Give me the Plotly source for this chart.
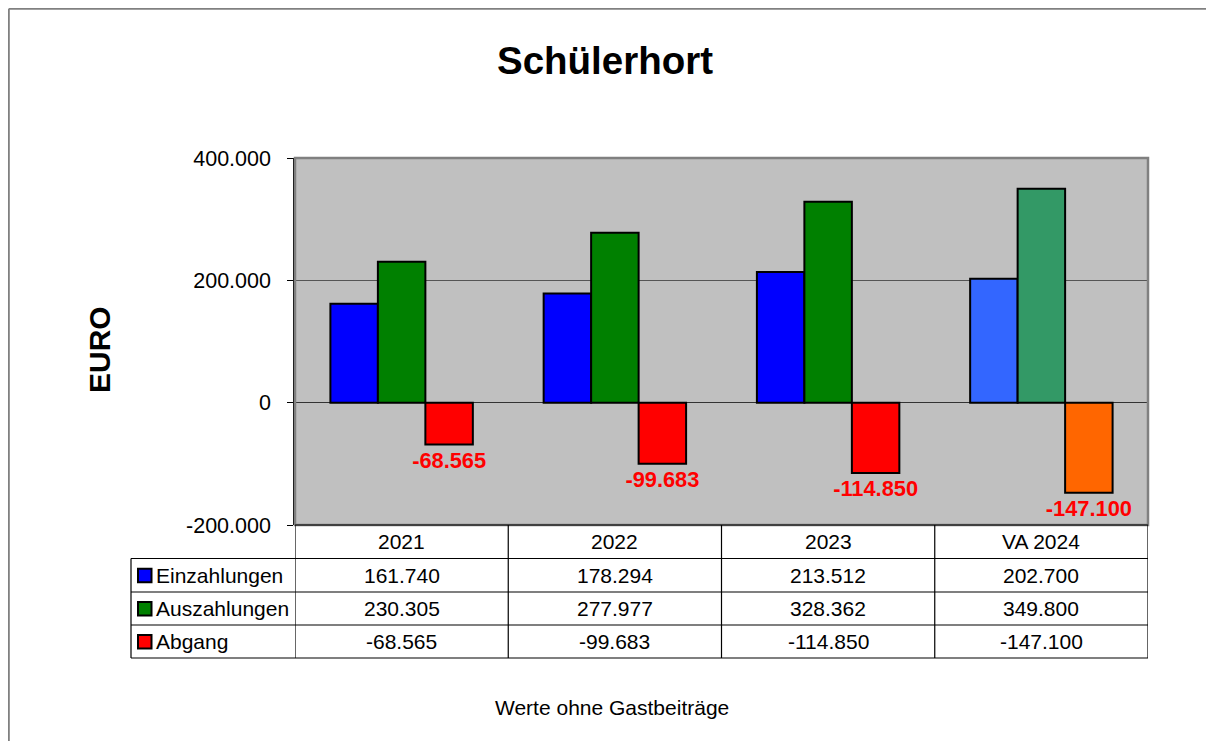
import plotly.graph_objects as go

# ---- data ----
categories = ["2021", "2022", "2023", "VA 2024"]
einzahlungen = [161740, 178294, 213512, 202700]
auszahlungen = [230305, 277977, 328362, 349800]
abgang = [-68565, -99683, -114850, -147100]
series_names = ["Einzahlungen", "Auszahlungen", "Abgang"]
y_ticks = [-200000, 0, 200000, 400000]

# ---- colours ----
col_ein = ["#0000FF", "#0000FF", "#0000FF", "#3366FF"]
col_aus = ["#008000", "#008000", "#008000", "#339966"]
col_abg = ["#FF0000", "#FF0000", "#FF0000", "#FF6600"]
legend_cols = ["#0000FF", "#008000", "#FF0000"]

FONT = "Liberation Sans, Arial, sans-serif"
OFF = 8  # page offset of the figure (body margin)
W, H = 1214 - 2 * OFF, 749 - 2 * OFF
PW, PH = 853, 367
L, T = 295 - OFF, 158 - OFF
R, B = W - L - PW, H - T - PH


def de(v):
    s = f"{abs(v):,}".replace(",", ".")
    return ("-" if v < 0 else "") + s


def px_x(px):  # page pixel -> paper
    return (px - OFF - L) / PW


def px_y(py):
    return (T + PH - (py - OFF)) / PH


fig = go.Figure()
for name, vals, cols in [(series_names[0], einzahlungen, col_ein),
                         (series_names[1], auszahlungen, col_aus),
                         (series_names[2], abgang, col_abg)]:
    kw = {}
    if name == "Abgang":
        kw = dict(text=[de(v) for v in vals], textposition="outside",
                  textfont=dict(family=FONT, size=21.8, color="#FF0000", weight="bold"),
                  constraintext="none", cliponaxis=False)
    fig.add_trace(go.Bar(x=categories, y=vals, name=name,
                         marker=dict(color=cols, line=dict(color="black", width=2)),
                         hoverinfo="skip", **kw))

shapes = []
annotations = []

# outer frame (top and left edges only are visible)
shapes.append(dict(type="line", xref="paper", yref="paper",
                   x0=px_x(8.8), x1=px_x(1230), y0=px_y(8.8), y1=px_y(8.8),
                   line=dict(color="#808080", width=2), layer="below"))
shapes.append(dict(type="line", xref="paper", yref="paper",
                   x0=px_x(8.8), x1=px_x(8.8), y0=px_y(8.8), y1=px_y(770),
                   line=dict(color="#808080", width=2), layer="below"))
# plot area border
shapes.append(dict(type="rect", xref="paper", yref="paper",
                   x0=0, x1=1, y0=0, y1=1,
                   line=dict(color="#808080", width=2.5), layer="above"))

# table geometry
row_edges = [525, 558.5, 592, 625, 658]
left_px = 131
col_edges = [-0.5, 0.5, 1.5, 2.5, 3.5]
shapes.append(dict(type="line", xref="paper", yref="paper", x0=0, x1=1,
                   y0=px_y(row_edges[0]), y1=px_y(row_edges[0]),
                   line=dict(color="black", width=1)))
for ry in row_edges[1:]:
    shapes.append(dict(type="line", xref="paper", yref="paper", x0=px_x(left_px), x1=1,
                       y0=px_y(ry), y1=px_y(ry), line=dict(color="black", width=1.2)))
for cx in col_edges:
    shapes.append(dict(type="line", xref="x", yref="paper", x0=cx, x1=cx,
                       y0=px_y(row_edges[0]), y1=px_y(row_edges[-1]),
                       line=dict(color="black", width=1.2)))
shapes.append(dict(type="line", xref="paper", yref="paper", x0=px_x(left_px), x1=px_x(left_px),
                   y0=px_y(row_edges[1]), y1=px_y(row_edges[-1]),
                   line=dict(color="black", width=1.2)))

TFS = 21
# header texts
hy = (row_edges[0] + row_edges[1]) / 2
for i, c in enumerate(categories):
    annotations.append(dict(x=i, xref="x", y=px_y(hy), yref="paper", text=c, showarrow=False,
                            font=dict(family=FONT, size=TFS, color="black"),
                            xanchor="center", yanchor="middle"))

# body rows
for r, (name, vals) in enumerate(zip(series_names, [einzahlungen, auszahlungen, abgang])):
    cy = (row_edges[r + 1] + row_edges[r + 2]) / 2
    shapes.append(dict(type="rect", xref="paper", yref="paper",
                       x0=px_x(138), x1=px_x(151.5), y0=px_y(cy - 6.5), y1=px_y(cy + 7),
                       fillcolor=legend_cols[r], line=dict(color="black", width=2)))
    annotations.append(dict(x=px_x(153.5), xref="paper", y=px_y(cy), yref="paper", text=name,
                            showarrow=False, font=dict(family=FONT, size=TFS, color="black"),
                            xanchor="left", yanchor="middle"))
    for i, v in enumerate(vals):
        annotations.append(dict(x=i, xref="x", y=px_y(cy), yref="paper", text=de(v),
                                showarrow=False, font=dict(family=FONT, size=TFS, color="black"),
                                xanchor="center", yanchor="middle"))

# y-axis title
annotations.append(dict(x=px_x(99), xref="paper", y=px_y(350), yref="paper", text="<b>EURO</b>",
                        textangle=-90, showarrow=False,
                        font=dict(family=FONT, size=30, color="black"),
                        xanchor="center", yanchor="middle"))
# footnote
annotations.append(dict(x=px_x(612), xref="paper", y=px_y(707), yref="paper",
                        text="Werte ohne Gastbeiträge", showarrow=False,
                        font=dict(family=FONT, size=TFS, color="black"),
                        xanchor="center", yanchor="middle"))

fig.update_layout(
    width=W, height=H,
    margin=dict(l=L, r=R, t=T, b=B, pad=0),
    paper_bgcolor="white", plot_bgcolor="#C0C0C0",
    title=dict(text="<b>Schülerhort</b>", x=(605 - OFF) / W, xref="container", xanchor="center",
               y=1 - (61 - OFF) / H, yref="container", yanchor="middle",
               font=dict(family=FONT, size=38.5, color="black")),
    font=dict(family=FONT, size=TFS, color="black"),
    barmode="group", bargap=0.332, bargroupgap=0,
    showlegend=False,
    shapes=shapes, annotations=annotations,
    xaxis=dict(showticklabels=False, showgrid=False, ticks="", showline=False,
               range=[-0.5, 3.5], fixedrange=True),
    yaxis=dict(range=[-200000, 400000], tickvals=y_ticks, ticktext=[de(v) for v in y_ticks],
               showgrid=True, gridcolor="#555555", gridwidth=1,
               zeroline=True, zerolinecolor="#333333", zerolinewidth=1,
               showline=True, linecolor="black", linewidth=1.5,
               ticks="outside", ticklen=6, tickcolor="black", ticklabelstandoff=12,
               tickfont=dict(family=FONT, size=21.5, color="black"), fixedrange=True),
)

fig.write_html("out.html")
